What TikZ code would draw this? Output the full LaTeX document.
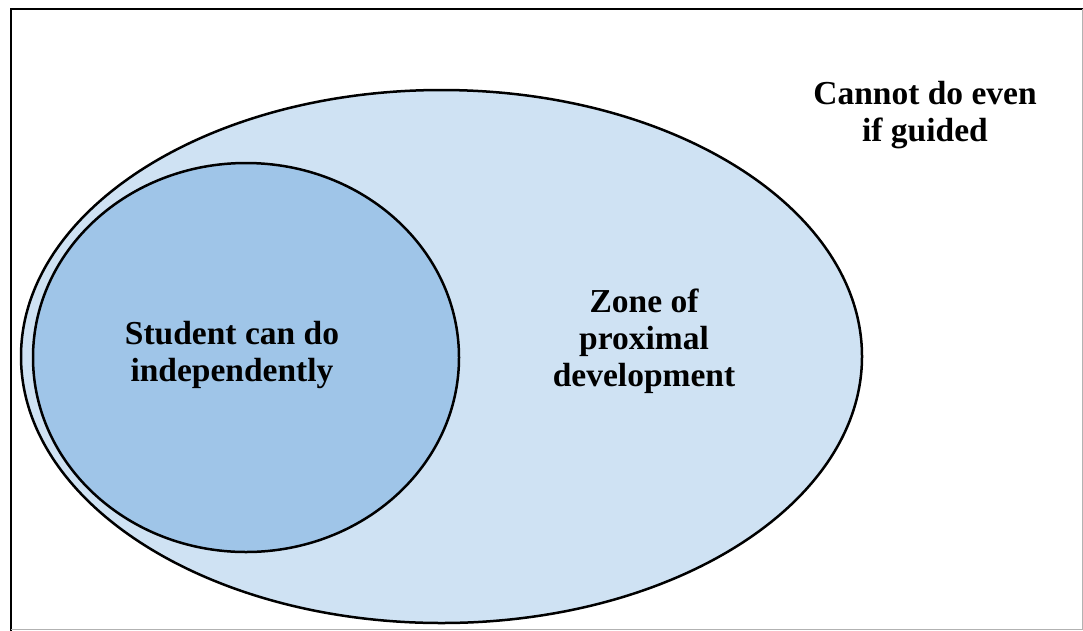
\documentclass[tikz,border=0pt]{standalone}
\usepackage{fontspec}
\setmainfont{Liberation Serif}
\usetikzlibrary{shapes.geometric}
\definecolor{zpdfill}{HTML}{CFE2F3}
\definecolor{indfill}{HTML}{9FC5E8}
\tikzset{
  zone/.style={ellipse, draw=black, line width=2.5pt, inner sep=0pt, outer sep=0pt},
  lbl/.style={align=center, inner sep=0pt, font=\bfseries\fontsize{33.5}{37}\selectfont}
}
\begin{document}
\begin{tikzpicture}[x=1pt,y=-1pt]
\useasboundingbox (0,0) rectangle (1083,630);
\fill[white] (0,0) rectangle (1083,630);
\draw[line width=2.5pt, black] (11,631) -- (11,9) -- (1085,9);
\draw[line width=1.2pt, black!30] (1082.4,9) -- (1082.4,629.4) -- (11,629.4);
\node[zone, fill=zpdfill, minimum width=841pt, minimum height=533pt] (zpd) at (441.5,356.5) {};
\node[zone, fill=indfill, minimum width=426pt, minimum height=389pt] (ind) at (246,357.5) {};
\node[lbl] (tind) at (232,355) {Student can do\\independently};
\node[lbl] (tzpd) at (644,341) {Zone of\\proximal\\development};
\node[lbl] (tout) at (925,115.5) {Cannot do even\\if guided};
\end{tikzpicture}
\end{document}
